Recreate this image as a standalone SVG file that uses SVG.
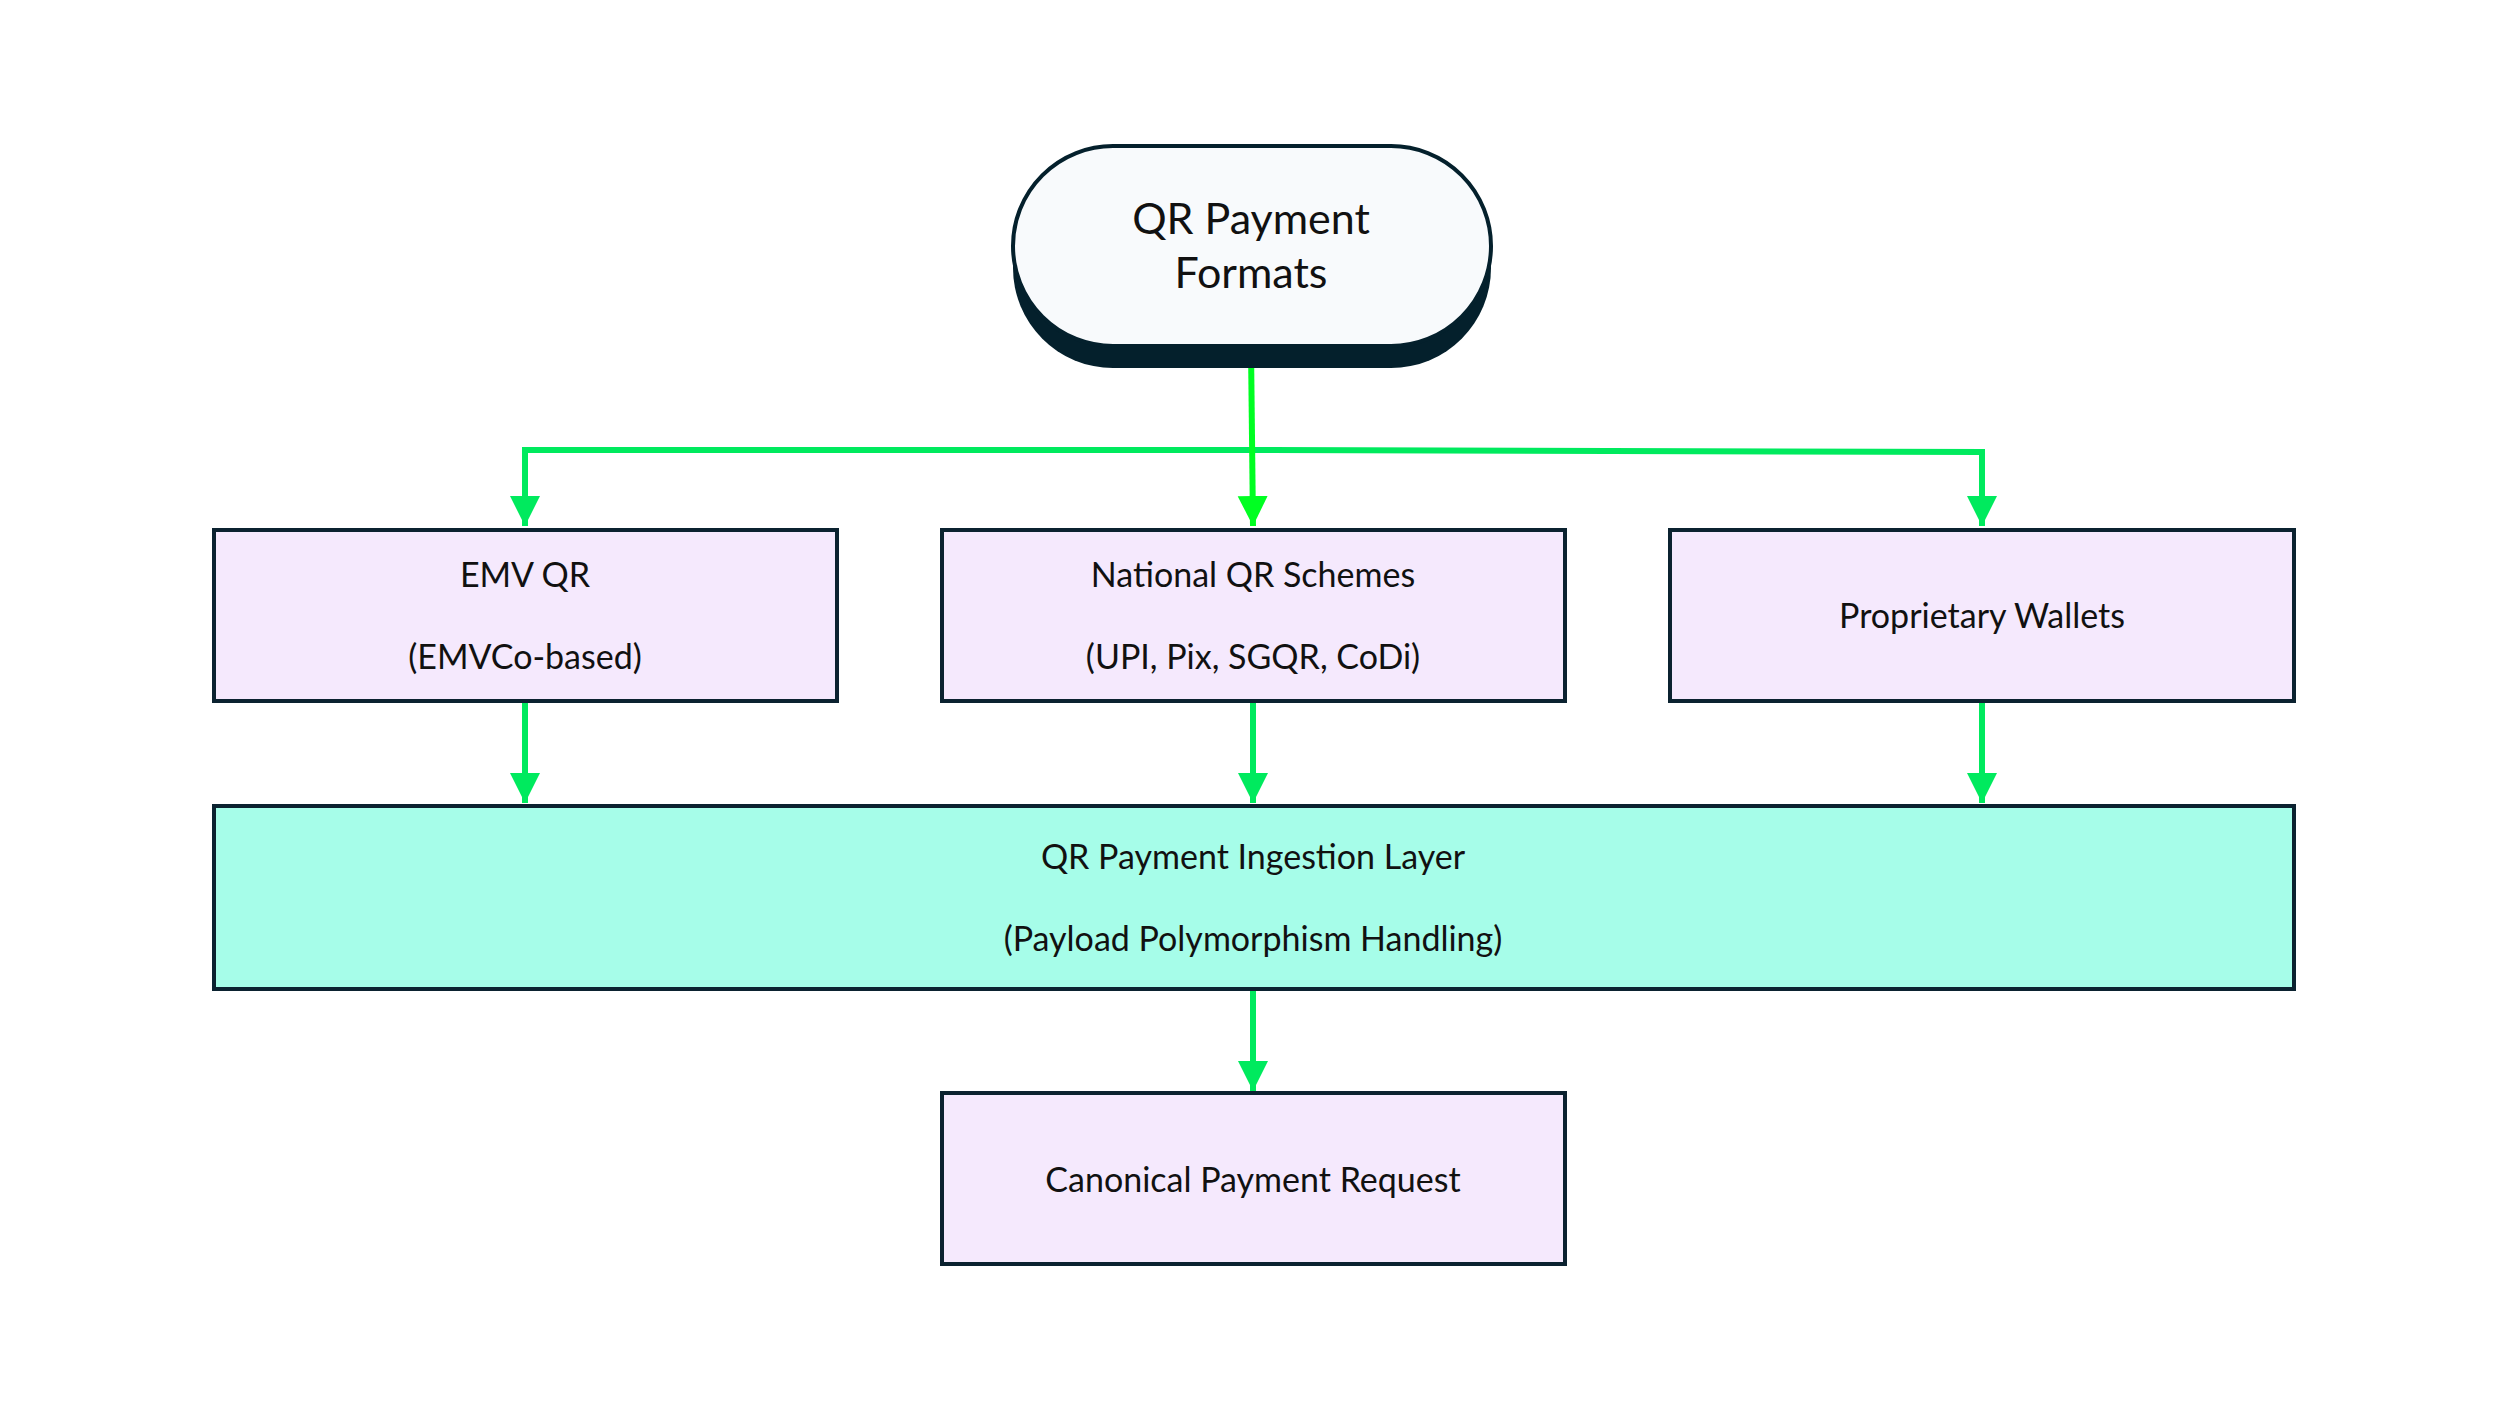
<svg xmlns="http://www.w3.org/2000/svg" width="2500" height="1406" viewBox="0 0 2500 1406">
<style>
text{font-family:Lato,"Open Sans","Liberation Sans",sans-serif;fill:#111;text-anchor:middle}
.box{fill:#f5e9fd;stroke:#0b2230;stroke-width:4}
.ing{fill:#a6fde9;stroke:#0b2230;stroke-width:4}
.t{font-size:34px}
.c{fill:none;stroke:#00ea5e;stroke-width:6}
.c2{fill:none;stroke:#00ff22;stroke-width:6}
</style>
<defs>
<marker id="a" viewBox="0 0 10 10" refX="10" refY="5" markerWidth="5" markerHeight="6.5" markerUnits="strokeWidth" orient="auto"><path d="M0,0L10,5L0,10z" fill="#00ea5e"/></marker>
<marker id="a2" viewBox="0 0 10 10" refX="10" refY="5" markerWidth="5" markerHeight="6.5" markerUnits="strokeWidth" orient="auto"><path d="M0,0L10,5L0,10z" fill="#00ff22"/></marker>
</defs>
<rect width="2500" height="1406" fill="#fff"/>
<g id="connectors">
<path class="c" d="M1251,450 L525,450 L525,526" marker-end="url(#a)"/>
<path class="c" d="M1251,450 L1982,452 L1982,526" marker-end="url(#a)"/>
<path class="c2" d="M1251,348 L1253,526" marker-end="url(#a2)"/>
<path class="c" d="M525,701 L525,803" marker-end="url(#a)"/>
<path class="c" d="M1253,701 L1253,803" marker-end="url(#a)"/>
<path class="c" d="M1982,701 L1982,803" marker-end="url(#a)"/>
<path class="c" d="M1253,989 L1253,1091" marker-end="url(#a)"/>
</g>
<g id="start">
<rect x="1013" y="168" width="478" height="200" rx="100" fill="#04202c"/>
<rect x="1013" y="146" width="478" height="200" rx="100" fill="#f8fafc" stroke="#04202c" stroke-width="4"/>
<text x="1251" y="234" font-size="43">QR Payment</text>
<text x="1251" y="288" font-size="43">Formats</text>
</g>
<g id="emv">
<rect class="box" x="214" y="530" width="623" height="171"/>
<text class="t" x="525" y="587">EMV QR</text>
<text class="t" x="525" y="669">(EMVCo-based)</text>
</g>
<g id="national">
<rect class="box" x="942" y="530" width="623" height="171"/>
<text class="t" x="1253" y="587">National QR Schemes</text>
<text class="t" x="1253" y="669">(UPI, Pix, SGQR, CoDi)</text>
</g>
<g id="proprietary">
<rect class="box" x="1670" y="530" width="624" height="171"/>
<text class="t" x="1982" y="628">Proprietary Wallets</text>
</g>
<g id="ingestion">
<rect class="ing" x="214" y="806" width="2080" height="183"/>
<text class="t" x="1253" y="869">QR Payment Ingestion Layer</text>
<text class="t" x="1253" y="951">(Payload Polymorphism Handling)</text>
</g>
<g id="canonical">
<rect class="box" x="942" y="1093" width="623" height="171"/>
<text class="t" x="1253" y="1192">Canonical Payment Request</text>
</g>
</svg>
